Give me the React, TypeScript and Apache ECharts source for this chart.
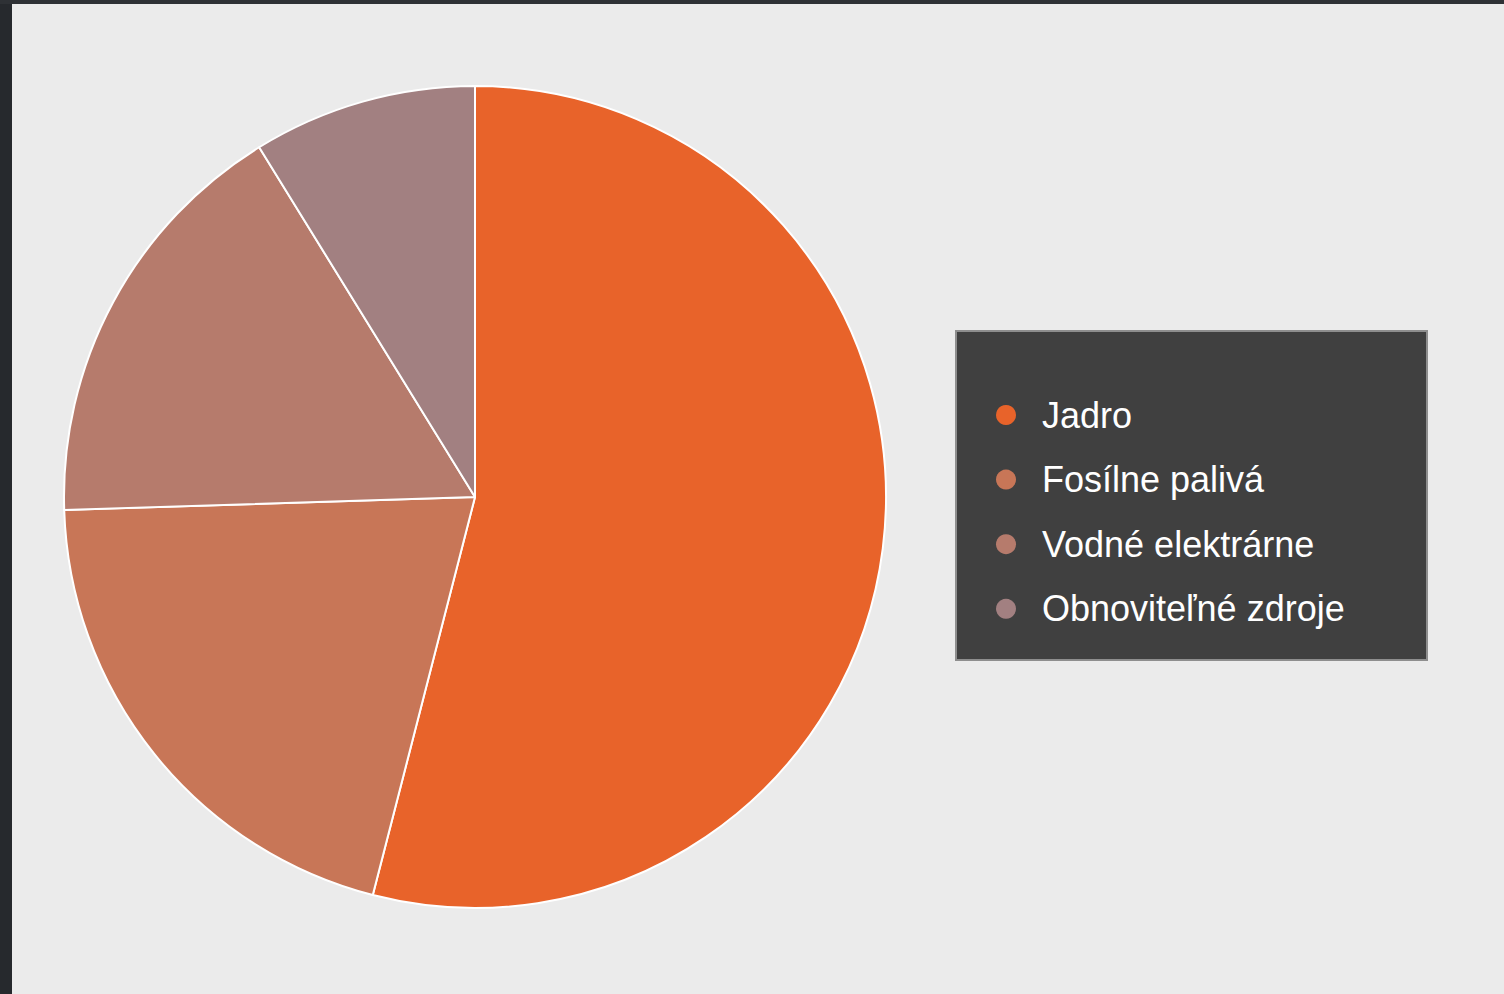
import React, { useEffect, useRef } from "react";
import * as echarts from "echarts";

const categories = ["Jadro", "Fosílne palivá", "Vodné elektrárne", "Obnoviteľné zdroje"];
const shares = [54.0, 20.5, 16.7, 8.8];
const colors = ["#e8632a", "#c87657", "#b67b6c", "#a28081"];

export default function App() {
  const ref = useRef<HTMLDivElement>(null);
  useEffect(() => {
    if (!ref.current) return;
    const chart = echarts.init(ref.current, null, { renderer: "svg" });
    chart.setOption({
      animation: false,
      backgroundColor: "#ebebeb",
      color: colors,
      graphic: [
        { type: "rect", z: 0, shape: { x: 0, y: 0, width: 12, height: 994 }, style: { fill: "#26292d" } },
        { type: "rect", z: 0, shape: { x: 0, y: 0, width: 1504, height: 4 }, style: { fill: "#2e3135" } },
        {
          type: "rect",
          z: 0,
          shape: { x: 956, y: 331, width: 471, height: 329 },
          style: { fill: "#404040", stroke: "#8e8e8e", lineWidth: 2 },
        },
      ],
      legend: {
        z: 10,
        orient: "vertical",
        left: 996,
        top: 397,
        padding: 0,
        icon: "circle",
        itemWidth: 62,
        itemHeight: 20,
        itemGap: 28.6,
        selectedMode: false,
        itemStyle: { borderWidth: 0 },
        textStyle: {
          color: "#ffffff",
          fontSize: 36,
          lineHeight: 36,
          fontFamily: "'Liberation Sans', Arial, sans-serif",
        },
        data: categories,
      },
      series: [
        {
          type: "pie",
          center: [475, 497],
          radius: [0, 411],
          startAngle: 90,
          clockwise: true,
          label: { show: false },
          labelLine: { show: false },
          emphasis: { disabled: true },
          itemStyle: { borderColor: "#ffffff", borderWidth: 2 },
          data: categories.map((name, i) => ({ name, value: shares[i] })),
        },
      ],
    });
    return () => chart.dispose();
  }, []);
  return (
    <div
      ref={ref}
      style={{ position: "absolute", left: 0, top: 0, width: 1504, height: 994 }}
    />
  );
}
